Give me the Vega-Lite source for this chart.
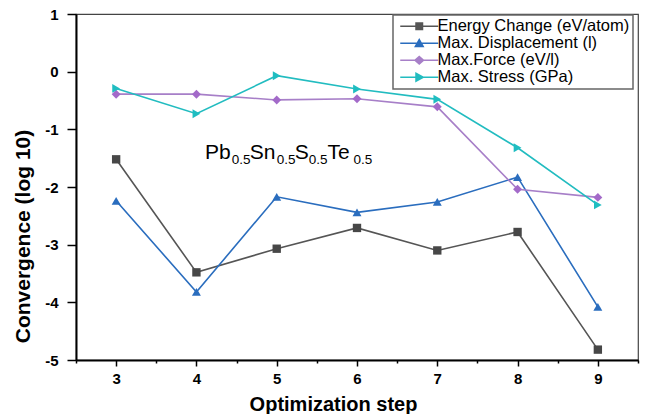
{
  "$schema": "https://vega.github.io/schema/vega-lite/v6.json",
  "width": 562,
  "height": 346,
  "autosize": {"type": "none"},
  "padding": {"left": 76, "top": 14, "right": 12, "bottom": 54},
  "background": "white",
  "config": {
    "view": {"stroke": "#444", "strokeWidth": 1.2},
    "font": "Liberation Sans",
    "axis": {"grid": false, "domainColor": "black", "domainWidth": 2, "tickColor": "black", "tickWidth": 1.5, "labelColor": "black", "titleColor": "black", "labelFont": "Liberation Sans", "titleFont": "Liberation Sans", "labelFontWeight": "bold", "titleFontWeight": "bold", "labelFontSize": 15, "labelOverlap": false, "labelFlush": false}
  },
  "datasets": {
    "conv": [
      {"step": 3, "series": "Energy Change (eV/atom)", "value": -1.52},
      {"step": 4, "series": "Energy Change (eV/atom)", "value": -3.48},
      {"step": 5, "series": "Energy Change (eV/atom)", "value": -3.07},
      {"step": 6, "series": "Energy Change (eV/atom)", "value": -2.71},
      {"step": 7, "series": "Energy Change (eV/atom)", "value": -3.10},
      {"step": 8, "series": "Energy Change (eV/atom)", "value": -2.78},
      {"step": 9, "series": "Energy Change (eV/atom)", "value": -4.82},
      {"step": 3, "series": "Max. Displacement (l)", "value": -2.24},
      {"step": 4, "series": "Max. Displacement (l)", "value": -3.82},
      {"step": 5, "series": "Max. Displacement (l)", "value": -2.17},
      {"step": 6, "series": "Max. Displacement (l)", "value": -2.44},
      {"step": 7, "series": "Max. Displacement (l)", "value": -2.26},
      {"step": 8, "series": "Max. Displacement (l)", "value": -1.83},
      {"step": 9, "series": "Max. Displacement (l)", "value": -4.08},
      {"step": 3, "series": "Max.Force (eV/l)", "value": -0.39},
      {"step": 4, "series": "Max.Force (eV/l)", "value": -0.39},
      {"step": 5, "series": "Max.Force (eV/l)", "value": -0.49},
      {"step": 6, "series": "Max.Force (eV/l)", "value": -0.47},
      {"step": 7, "series": "Max.Force (eV/l)", "value": -0.61},
      {"step": 8, "series": "Max.Force (eV/l)", "value": -2.04},
      {"step": 9, "series": "Max.Force (eV/l)", "value": -2.18},
      {"step": 3, "series": "Max. Stress (GPa)", "value": -0.29},
      {"step": 4, "series": "Max. Stress (GPa)", "value": -0.73},
      {"step": 5, "series": "Max. Stress (GPa)", "value": -0.07},
      {"step": 6, "series": "Max. Stress (GPa)", "value": -0.30},
      {"step": 7, "series": "Max. Stress (GPa)", "value": -0.48},
      {"step": 8, "series": "Max. Stress (GPa)", "value": -1.32},
      {"step": 9, "series": "Max. Stress (GPa)", "value": -2.31}
    ],
    "anno": [{"name": "formula"}]
  },
  "layer": [
    {
      "data": {"name": "conv"},
      "mark": {"type": "line", "strokeWidth": 1.6},
      "encoding": {
        "x": {
          "field": "step", "type": "quantitative",
          "scale": {"domain": [2.5, 9.5], "nice": false, "zero": false},
          "axis": {
            "title": "Optimization step",
            "values": [2.5, 3, 3.5, 4, 4.5, 5, 5.5, 6, 6.5, 7, 7.5, 8, 8.5, 9, 9.5],
            "labelExpr": "datum.value % 1 === 0 ? format(datum.value, 'd') : ''",
            "tickSize": {"condition": {"test": "datum.value % 1 !== 0", "value": 3}, "value": 6},
            "labelPadding": 5,
            "titleFontSize": 20,
            "titleX": 257,
            "titleY": 50,
            "titleBaseline": "alphabetic"
          }
        },
        "y": {
          "field": "value", "type": "quantitative",
          "scale": {"domain": [-5, 1], "nice": false, "zero": false},
          "axis": {
            "title": "Convergence (log 10)",
            "values": [-5, -4.5, -4, -3.5, -3, -2.5, -2, -1.5, -1, -0.5, 0, 0.5, 1],
            "labelExpr": "datum.value % 1 === 0 ? (datum.value < 0 ? '-' + format(-datum.value, 'd') : format(datum.value, 'd')) : ''",
            "tickSize": {"condition": {"test": "datum.value % 1 !== 0", "value": 5}, "value": 9},
            "labelPadding": 9,
            "titleFontSize": 21,
            "titleX": -47,
            "titleY": 222,
            "titleBaseline": "alphabetic",
            "titleAlign": "center",
            "titleAngle": -90
          }
        },
        "color": {
          "field": "series", "type": "nominal",
          "scale": {
            "domain": ["Energy Change (eV/atom)", "Max. Displacement (l)", "Max.Force (eV/l)", "Max. Stress (GPa)"],
            "range": ["#555555", "#2a6dbe", "#a77fc8", "#22bcc0"]
          },
          "legend": {
            "title": null,
            "orient": "none",
            "legendX": 317,
            "legendY": 1,
            "padding": 3,
            "strokeColor": "#666",
            "fillColor": "white",
            "symbolSize": 64,
            "symbolOffset": 15,
            "labelOffset": 10,
            "labelFont": "Liberation Sans",
            "labelFontSize": 16.5,
            "labelColor": "black",
            "labelLimit": 300,
            "rowPadding": -4.5,
            "symbolOpacity": 1,
            "encode": {
              "legend": {"update": {"strokeWidth": {"value": 1.5}}},
              "symbols": {
                "update": {
                  "shape": {"signal": "datum.value === 'Energy Change (eV/atom)' ? 'M-4.75,-0.19H4.75V0.19H-4.75ZM-1,-1H1V1H-1Z' : datum.value === 'Max. Displacement (l)' ? 'M-4.75,-0.19H4.75V0.19H-4.75ZM0,-1.3L1.3,1L-1.3,1Z' : datum.value === 'Max.Force (eV/l)' ? 'M-4.75,-0.19H4.75V0.19H-4.75ZM0,-1.2L1.35,0L0,1.2L-1.35,0Z' : 'M-4.75,-0.19H4.75V0.19H-4.75ZM-1,-1.3L1.4,0L-1,1.3Z'"},
                  "fill": {"signal": "scale('color', datum.value)"},
                  "fillOpacity": {"value": 1},
                  "stroke": {"value": "transparent"},
                  "strokeWidth": {"value": 0}
                }
              }
            }
          }
        },
        "detail": {"field": "series"}
      }
    },
    {
      "data": {"name": "conv"},
      "transform": [{"filter": "datum.series === 'Energy Change (eV/atom)'"}],
      "mark": {"type": "point", "filled": true, "opacity": 1, "size": 70, "shape": "square", "color": "#474747"},
      "encoding": {"x": {"field": "step", "type": "quantitative"}, "y": {"field": "value", "type": "quantitative"}}
    },
    {
      "data": {"name": "conv"},
      "transform": [{"filter": "datum.series === 'Max. Displacement (l)'"}],
      "mark": {"type": "point", "filled": true, "opacity": 1, "size": 80, "shape": "triangle-up", "color": "#2a6dbe"},
      "encoding": {"x": {"field": "step", "type": "quantitative"}, "y": {"field": "value", "type": "quantitative"}}
    },
    {
      "data": {"name": "conv"},
      "transform": [{"filter": "datum.series === 'Max.Force (eV/l)'"}],
      "mark": {"type": "point", "filled": true, "opacity": 1, "size": 80, "shape": "diamond", "color": "#a36ac9"},
      "encoding": {"x": {"field": "step", "type": "quantitative"}, "y": {"field": "value", "type": "quantitative"}}
    },
    {
      "data": {"name": "conv"},
      "transform": [{"filter": "datum.series === 'Max. Stress (GPa)'"}],
      "mark": {"type": "point", "filled": true, "opacity": 1, "size": 80, "shape": "triangle-right", "color": "#1fbdc1"},
      "encoding": {"x": {"field": "step", "type": "quantitative"}, "y": {"field": "value", "type": "quantitative"}}
    },
    {
      "data": {"name": "anno"},
      "mark": {"type": "text", "text": "Pb", "align": "left", "baseline": "alphabetic", "fontSize": 21, "font": "Liberation Sans", "color": "black"},
      "encoding": {"x": {"datum": 4.106, "type": "quantitative"}, "y": {"datum": -1.521, "type": "quantitative"}}
    },
    {
      "data": {"name": "anno"},
      "mark": {"type": "text", "text": "0.5", "align": "left", "baseline": "alphabetic", "fontSize": 13.5, "font": "Liberation Sans", "color": "black"},
      "encoding": {"x": {"datum": 4.441, "type": "quantitative"}, "y": {"datum": -1.602, "type": "quantitative"}}
    },
    {
      "data": {"name": "anno"},
      "mark": {"type": "text", "text": "Sn", "align": "left", "baseline": "alphabetic", "fontSize": 21, "font": "Liberation Sans", "color": "black"},
      "encoding": {"x": {"datum": 4.665, "type": "quantitative"}, "y": {"datum": -1.521, "type": "quantitative"}}
    },
    {
      "data": {"name": "anno"},
      "mark": {"type": "text", "text": "0.5", "align": "left", "baseline": "alphabetic", "fontSize": 13.5, "font": "Liberation Sans", "color": "black"},
      "encoding": {"x": {"datum": 5.0, "type": "quantitative"}, "y": {"datum": -1.602, "type": "quantitative"}}
    },
    {
      "data": {"name": "anno"},
      "mark": {"type": "text", "text": "S", "align": "left", "baseline": "alphabetic", "fontSize": 21, "font": "Liberation Sans", "color": "black"},
      "encoding": {"x": {"datum": 5.224, "type": "quantitative"}, "y": {"datum": -1.521, "type": "quantitative"}}
    },
    {
      "data": {"name": "anno"},
      "mark": {"type": "text", "text": "0.5", "align": "left", "baseline": "alphabetic", "fontSize": 13.5, "font": "Liberation Sans", "color": "black"},
      "encoding": {"x": {"datum": 5.398, "type": "quantitative"}, "y": {"datum": -1.602, "type": "quantitative"}}
    },
    {
      "data": {"name": "anno"},
      "mark": {"type": "text", "text": "Te", "align": "left", "baseline": "alphabetic", "fontSize": 21, "font": "Liberation Sans", "color": "black"},
      "encoding": {"x": {"datum": 5.634, "type": "quantitative"}, "y": {"datum": -1.521, "type": "quantitative"}}
    },
    {
      "data": {"name": "anno"},
      "mark": {"type": "text", "text": "0.5", "align": "left", "baseline": "alphabetic", "fontSize": 13.5, "font": "Liberation Sans", "color": "black"},
      "encoding": {"x": {"datum": 5.957, "type": "quantitative"}, "y": {"datum": -1.602, "type": "quantitative"}}
    }
  ]
}
